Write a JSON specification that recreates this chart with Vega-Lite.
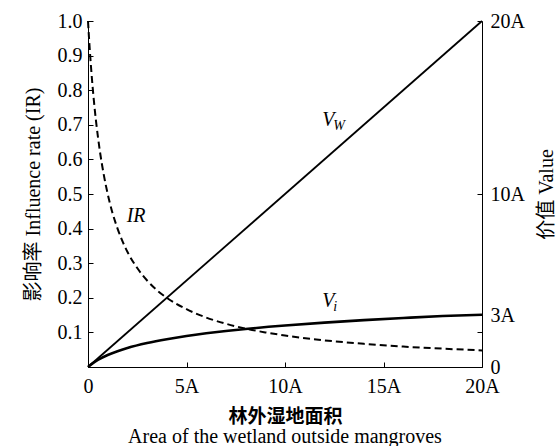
{
  "$schema": "https://vega.github.io/schema/vega-lite/v6.json",
  "width": 394,
  "height": 346,
  "autosize": {"type": "none"},
  "padding": {"left": 88, "top": 21, "right": 76, "bottom": 79},
  "background": "white",
  "config": {
    "view": {"stroke": null},
    "axis": {
      "domainColor": "black",
      "domainWidth": 1,
      "tickColor": "black",
      "tickWidth": 1,
      "tickSize": -5,
      "grid": false,
      "labelColor": "black",
      "labelFont": "Liberation Serif",
      "labelFontSize": 20,
      "labelOverlap": false,
      "labelFlush": false,
      "titleColor": "black",
      "titleFont": "Liberation Serif, Noto Sans CJK SC",
      "titleFontSize": 20,
      "titleFontWeight": "normal"
    }
  },
  "title": {
    "text": "Area of the wetland outside mangroves",
    "orient": "bottom",
    "anchor": "middle",
    "font": "Liberation Serif",
    "fontSize": 20,
    "fontWeight": "normal",
    "color": "black",
    "offset": 1
  },
  "datasets": {
    "ir": [
      {"x": 0, "y": 1.0}, {"x": 0.05, "y": 0.952}, {"x": 0.1, "y": 0.909}, {"x": 0.2, "y": 0.833},
      {"x": 0.3, "y": 0.769}, {"x": 0.4, "y": 0.714}, {"x": 0.5, "y": 0.667}, {"x": 0.6, "y": 0.625},
      {"x": 0.8, "y": 0.556}, {"x": 1.0, "y": 0.5}, {"x": 1.25, "y": 0.444}, {"x": 1.5, "y": 0.4},
      {"x": 2, "y": 0.333}, {"x": 2.5, "y": 0.286}, {"x": 3, "y": 0.25}, {"x": 3.5, "y": 0.222},
      {"x": 4, "y": 0.2}, {"x": 5, "y": 0.167}, {"x": 6, "y": 0.143}, {"x": 7, "y": 0.125},
      {"x": 8, "y": 0.111}, {"x": 9, "y": 0.1}, {"x": 10, "y": 0.091}, {"x": 12, "y": 0.077},
      {"x": 14, "y": 0.067}, {"x": 16, "y": 0.059}, {"x": 18, "y": 0.053}, {"x": 20, "y": 0.048}
    ],
    "vi": [
      {"x": 0, "y": 0}, {"x": 0.25, "y": 0.223}, {"x": 0.5, "y": 0.405}, {"x": 1, "y": 0.693},
      {"x": 1.5, "y": 0.916}, {"x": 2, "y": 1.099}, {"x": 3, "y": 1.386}, {"x": 4, "y": 1.609},
      {"x": 5, "y": 1.792}, {"x": 6, "y": 1.946}, {"x": 7, "y": 2.079}, {"x": 8, "y": 2.197},
      {"x": 10, "y": 2.398}, {"x": 12, "y": 2.565}, {"x": 14, "y": 2.708}, {"x": 16, "y": 2.833},
      {"x": 18, "y": 2.944}, {"x": 20, "y": 3.02}
    ],
    "vw": [{"x": 0, "y": 0}, {"x": 20, "y": 20}],
    "notes": [
      {"label": "IR", "x": 2.44, "y": 0.436, "kind": "main"},
      {"label": "V", "x": 12.2, "y": 0.714, "kind": "main"},
      {"label": "W", "x": 12.2, "y": 0.714, "kind": "sub"},
      {"label": "V", "x": 12.2, "y": 0.19, "kind": "main"},
      {"label": "i", "x": 12.2, "y": 0.19, "kind": "sub"}
    ]
  },
  "encoding": {
    "x": {
      "field": "x",
      "type": "quantitative",
      "scale": {"domain": [0, 20], "nice": false, "zero": false},
      "axis": {
        "values": [0, 5, 10, 15, 20],
        "labelExpr": "datum.value == 0 ? '0' : datum.value + 'A'",
        "labelPadding": 14,
        "title": "林外湿地面积",
        "titleFont": "Noto Sans CJK SC",
        "titleFontWeight": "bold",
        "titleFontSize": 19,
        "titlePadding": 11
      }
    }
  },
  "layer": [
    {
      "encoding": {
        "y": {
          "field": "y",
          "type": "quantitative",
          "scale": {"domain": [0, 1], "nice": false},
          "axis": {
            "orient": "left",
            "values": [0, 0.1, 0.2, 0.3, 0.4, 0.5, 0.6, 0.7, 0.8, 0.9, 1.0],
            "format": ".1f",
            "labelExpr": "datum.value == 0 ? '' : datum.label",
            "labelPadding": 11,
            "title": "影响率 Influence rate (IR)",
            "titlePadding": 14
          }
        }
      },
      "layer": [
        {
          "data": {"name": "ir"},
          "mark": {"type": "line", "color": "black", "strokeWidth": 2, "strokeDash": [7, 4], "interpolate": "monotone"}
        },
        {
          "data": {"name": "notes"},
          "transform": [{"filter": "datum.kind == 'main'"}],
          "mark": {"type": "text", "font": "Liberation Serif", "fontSize": 20, "fontStyle": "italic", "color": "black", "align": "center", "baseline": "middle"},
          "encoding": {"text": {"field": "label"}}
        },
        {
          "data": {"name": "notes"},
          "transform": [{"filter": "datum.kind == 'sub'"}],
          "mark": {"type": "text", "font": "Liberation Serif", "fontSize": 14, "fontStyle": "italic", "color": "black", "align": "left", "baseline": "middle", "dx": 5, "dy": 6},
          "encoding": {"text": {"field": "label"}}
        }
      ]
    },
    {
      "encoding": {
        "y": {
          "field": "y",
          "type": "quantitative",
          "scale": {"domain": [0, 20], "nice": false},
          "axis": {
            "orient": "right",
            "values": [0, 2, 3, 10, 20],
            "labelExpr": "datum.value == 0 ? '0' : (datum.value == 2 ? '' : datum.value + 'A')",
            "labelPadding": 13,
            "title": "价值 Value",
            "titleAngle": 270,
            "titleBaseline": "top",
            "titlePadding": 12
          }
        }
      },
      "layer": [
        {
          "data": {"name": "vw"},
          "mark": {"type": "line", "color": "black", "strokeWidth": 1.8}
        },
        {
          "data": {"name": "vi"},
          "mark": {"type": "line", "color": "black", "strokeWidth": 2.6, "interpolate": "monotone"}
        }
      ]
    }
  ],
  "resolve": {"scale": {"y": "independent"}}
}
